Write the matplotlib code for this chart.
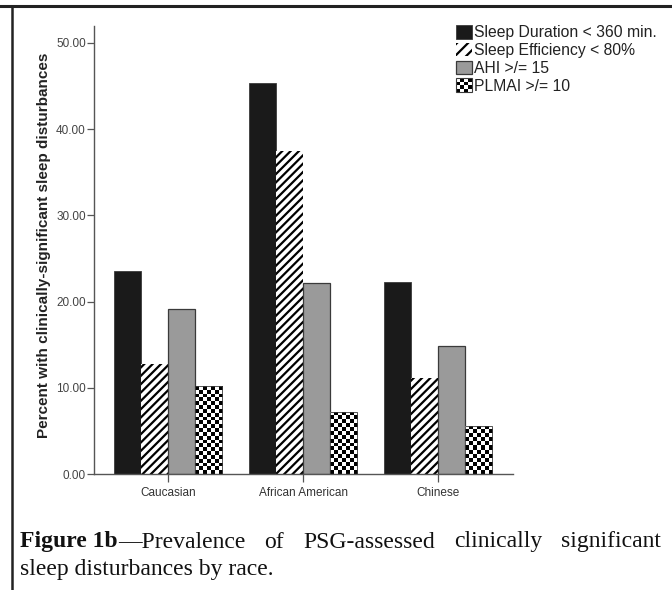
import numpy as np
import matplotlib
matplotlib.use("Agg")
import matplotlib.pyplot as plt
from matplotlib.patches import Rectangle
from matplotlib.lines import Line2D
from matplotlib.legend_handler import HandlerBase

plt.rcParams['font.family'] = ['Liberation Sans', 'DejaVu Sans']
plt.rcParams['hatch.linewidth'] = 1.6

# data
races = ['Caucasian', 'African American', 'Chinese']
series = ['Sleep Duration < 360 min.', 'Sleep Efficiency < 80%', 'AHI >/= 15', 'PLMAI >/= 10']
duration = [23.6, 45.3, 22.3]
efficiency = [12.7, 37.5, 11.1]
ahi = [19.1, 22.2, 14.8]
plmai = [10.2, 7.2, 5.6]
yticks = [0, 10, 20, 30, 40, 50]

caption_bold = 'Figure 1b'
caption_line1 = '\u2014Prevalence of PSG-assessed clinically significant'
caption_line2 = 'sleep disturbances by race.'

edge = '#3a3a3a'


def checker_fill(ax, bar, sq_px=3.9):
    # fill a bar with a small black/white checkerboard, clipped to the bar
    x0, y0 = bar.get_x(), bar.get_y()
    x1, y1 = x0 + bar.get_width(), y0 + bar.get_height()
    p0 = ax.transData.transform((x0, y0))
    p1 = ax.transData.transform((x1, y1))
    nx = max(1, int(round((p1[0] - p0[0]) / sq_px)))
    ny = max(1, int(round((p1[1] - p0[1]) / sq_px)))
    grid = (np.add.outer(np.arange(ny), np.arange(nx)) % 2).astype(float)
    im = ax.imshow(grid, cmap='gray', vmin=0, vmax=1, extent=(x0, x1, y0, y1),
                   origin='lower', interpolation='nearest', aspect='auto', zorder=2)
    im.set_clip_path(bar)


class CheckerHandler(HandlerBase):
    def create_artists(self, legend, orig_handle, xdescent, ydescent,
                       width, height, fontsize, trans):
        arts = []
        n = 4
        w = width / n
        h = height / n
        for i in range(n):
            for j in range(n):
                c = 'black' if (i + j) % 2 == 0 else 'white'
                arts.append(Rectangle((-xdescent + i * w, -ydescent + j * h), w, h,
                                      facecolor=c, edgecolor='none', transform=trans))
        arts.append(Rectangle((-xdescent, -ydescent), width, height, facecolor='none',
                              edgecolor=edge, lw=0.8, transform=trans))
        return arts


fig = plt.figure(figsize=(6.72, 5.9), dpi=100)
ax = fig.add_axes([0.140, 0.1966, 0.623, 0.760])

x = np.arange(len(races))
w = 0.2
b1 = ax.bar(x - 1.5 * w, duration, w, color='#1a1a1a', edgecolor=edge, lw=0.6, zorder=2)
b2 = ax.bar(x - 0.5 * w, efficiency, w, color='white', edgecolor='black', hatch='////', lw=0, zorder=2)
b3 = ax.bar(x + 0.5 * w, ahi, w, color='#9a9a9a', edgecolor=edge, lw=0.9, zorder=2)
b4 = ax.bar(x + 1.5 * w, plmai, w, color='white', edgecolor=edge, lw=0.6, zorder=3)
for b in b4:
    b.set_facecolor('none')

ax.set_xlim(-0.55, 2.55)
ax.set_ylim(0, 52)
for b in b4:
    checker_fill(ax, b)

ax.set_yticks(yticks)
ax.set_yticklabels(['%.2f' % v for v in yticks], fontsize=8.5, color='#444444')
ax.set_xticks(x)
ax.set_xticklabels(races, fontsize=8.5, color='#333333')
ax.tick_params(axis='y', direction='out', length=5, width=0.9, color='#555555', pad=1)
ax.tick_params(axis='x', direction='out', length=6, width=0.9, color='#555555', pad=3)
for s in ['top', 'right']:
    ax.spines[s].set_visible(False)
for s in ['left', 'bottom']:
    ax.spines[s].set_color('#555555')
    ax.spines[s].set_linewidth(1.0)

ax.set_ylabel('Percent with clinically-significant sleep disturbances',
              fontsize=11, fontweight='bold', color='#222222')
ax.yaxis.set_label_coords(-0.103, 0.51)

# legend
h_solid = Rectangle((0, 0), 1, 1, facecolor='#1a1a1a', edgecolor=edge, lw=0.6)
h_hatch = Rectangle((0, 0), 1, 1, facecolor='white', edgecolor='black', hatch='///', lw=0)
h_gray = Rectangle((0, 0), 1, 1, facecolor='#9a9a9a', edgecolor=edge, lw=0.9)
h_check = Rectangle((0, 0), 1, 1)
leg = fig.legend([h_solid, h_hatch, h_gray, h_check], series,
                 handler_map={h_check: CheckerHandler()},
                 loc='upper left', bbox_to_anchor=(456 / 672, 1 - 25 / 590),
                 frameon=False, fontsize=11.3, handlelength=1.05, handleheight=0.95,
                 handletextpad=0.12, labelspacing=0.17, borderpad=0, borderaxespad=0)
for t in leg.get_texts():
    t.set_color('#222222')

# page borders
fig.add_artist(Line2D([0, 1], [1 - 6 / 590, 1 - 6 / 590], color='#222222', lw=2.2))
fig.add_artist(Line2D([12 / 672, 12 / 672], [0, 1 - 6 / 590], color='#222222', lw=1.8))

# caption, first line justified
serif = ['Liberation Serif', 'DejaVu Serif']
cap_fs = 17
y1 = 1 - 542 / 590
y2 = 1 - 569 / 590
left, right = 20 / 672, 661 / 672
fig.canvas.draw()
r = fig.canvas.get_renderer()
words = caption_line1.split(' ')
pieces = [(caption_bold, 'bold')] + [(wd, 'normal') for wd in words]
arts = []
for txt, wt in pieces:
    t = fig.text(0, y1, txt, family=serif, fontsize=cap_fs, fontweight=wt,
                 va='center', ha='left', color='#111111')
    arts.append(t)
widths = [a.get_window_extent(r).width / fig.bbox.width for a in arts]
# bold word and the dash are joined, the rest are spread
groups = [[0, 1]] + [[i] for i in range(2, len(arts))]
gw = [sum(widths[i] for i in g) for g in groups]
gap = (right - left - sum(gw)) / (len(groups) - 1)
xpos = left
for g, wg in zip(groups, gw):
    xx = xpos
    for i in g:
        arts[i].set_x(xx)
        xx += widths[i]
    xpos += wg + gap
fig.text(left, y2, caption_line2, family=serif, fontsize=cap_fs,
         va='center', ha='left', color='#111111')

fig.savefig('out.png', dpi=100)
